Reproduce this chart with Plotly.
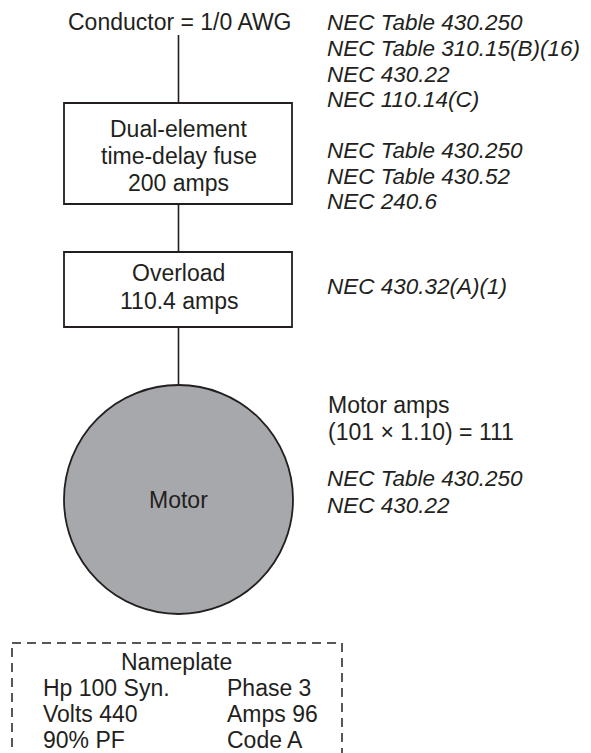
import plotly.graph_objects as go

# ---- content ----
conductor_label = ["Conductor = 1/0 AWG"]
fuse_lines = ["Dual-element", "time-delay fuse", "200 amps"]
overload_lines = ["Overload", "110.4 amps"]
motor_label = ["Motor"]
ref_conductor = ["NEC Table 430.250", "NEC Table 310.15(B)(16)", "NEC 430.22", "NEC 110.14(C)"]
ref_fuse = ["NEC Table 430.250", "NEC Table 430.52", "NEC 240.6"]
ref_overload = ["NEC 430.32(A)(1)"]
motor_calc = ["Motor amps", "(101 \u00d7 1.10) = 111"]
ref_motor = ["NEC Table 430.250", "NEC 430.22"]
nameplate_title = ["Nameplate"]
nameplate_left = ["Hp 100 Syn.", "Volts 440", "90% PF"]
nameplate_right = ["Phase 3", "Amps 96", "Code A"]

# ---- layout constants (page pixel space) ----
W, H = 591, 753
OFF = 8  # default page body margin
INK = "#231f20"
FONT = "Liberation Sans, Arial, Helvetica, sans-serif"
FS = 23
FS_IT = 22.5
CX = 178.5

fig = go.Figure()
shapes = []
ann = []

def text(x, y, s, xanchor="center", italic=False):
    ann.append(dict(x=x, y=y, xref="x", yref="y", text=(f"<i>{s}</i>" if italic else s),
                    showarrow=False, xanchor=xanchor, yanchor="middle",
                    font=dict(family=FONT, size=(FS_IT if italic else FS), color=INK)))

def line(x0, y0, x1, y1, dash="solid", width=1.6):
    shapes.append(dict(type="line", x0=x0, y0=y0, x1=x1, y1=y1, xref="x", yref="y",
                       line=dict(color=INK, width=width, dash=dash)))

def rect(x0, y0, x1, y1, dash="solid", fill="white", width=1.8):
    shapes.append(dict(type="rect", x0=x0, y0=y0, x1=x1, y1=y1, xref="x", yref="y",
                       line=dict(color=INK, width=width, dash=dash), fillcolor=fill, layer="below"))

# connecting lines
line(CX, 35, CX, 103)
line(CX, 204, CX, 252)
line(CX, 327, CX, 386)

# boxes
rect(64, 103, 292, 204)
rect(64, 252, 292, 327)

# motor circle
shapes.append(dict(type="circle", x0=64, y0=385, x1=293, y1=614, xref="x", yref="y",
                   line=dict(color=INK, width=1.8), fillcolor="#a7a8ab", layer="below"))

# nameplate dashed box (bottom edge off-page)
rect(12, 643, 342, 770, dash="9px,6px", fill="rgba(0,0,0,0)", width=1.5)

# texts
text(180, 22, conductor_label[0])
for s, y in zip(fuse_lines, [129, 156, 183]):
    text(CX, y, s)
for s, y in zip(overload_lines, [273, 301]):
    text(CX, y, s)
text(CX, 500, motor_label[0])

RX = 325
for s, y in zip(ref_conductor, [22, 48, 74, 99]):
    text(RX, y, s, xanchor="left", italic=True)
for s, y in zip(ref_fuse, [150, 176, 201]):
    text(RX, y, s, xanchor="left", italic=True)
for s, y in zip(ref_overload, [286]):
    text(RX, y, s, xanchor="left", italic=True)
for s, y in zip(motor_calc, [405, 432]):
    text(RX + 1, y, s, xanchor="left")
for s, y in zip(ref_motor, [478, 505]):
    text(RX, y, s, xanchor="left", italic=True)

text(176, 662, nameplate_title[0])
for s, y in zip(nameplate_left, [688, 714, 740]):
    text(41, y, s, xanchor="left")
for s, y in zip(nameplate_right, [688, 714, 740]):
    text(225, y, s, xanchor="left")

fig.update_layout(
    width=W - OFF, height=H - OFF, margin=dict(l=0, r=0, t=0, b=0),
    paper_bgcolor="white", plot_bgcolor="white",
    xaxis=dict(range=[OFF, W], visible=False, fixedrange=True),
    yaxis=dict(range=[H, OFF], visible=False, fixedrange=True),
    shapes=shapes, annotations=ann, showlegend=False,
)
fig.write_html("out.html", config={"displayModeBar": False})
